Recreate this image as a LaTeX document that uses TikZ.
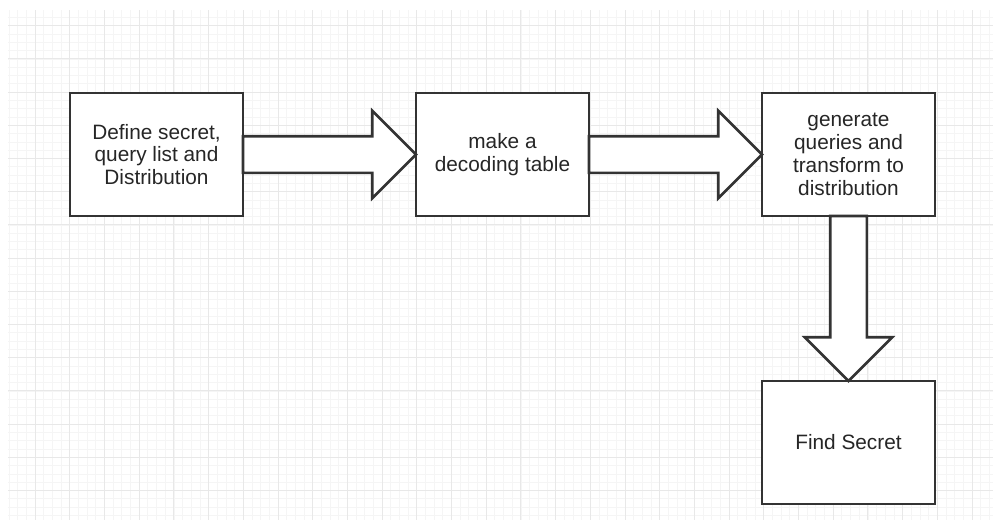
\documentclass[tikz,border=0pt]{standalone}
\usepackage{fontspec}
\setmainfont{Liberation Sans}
\usetikzlibrary{positioning, shapes.arrows, calc}

\tikzset{
  stepbox/.style={draw=black!80, line width=2.6pt, fill=white, outer sep=0pt,
    minimum width=173pt, minimum height=123pt, align=center, text=black!85,
    font=\fontsize{20.8}{22.8}\selectfont},
  fatarrow/.style={single arrow, draw=black!80, line width=2.6pt, fill=white,
    inner xsep=0pt, inner ysep=17pt, outer sep=0pt, minimum width=85pt,
    single arrow head extend=25.5pt, anchor=tail},
  downarrow/.style={fatarrow, shape border rotate=270, inner xsep=17pt, inner ysep=0pt},
  minorline/.style={black!4, line width=0.6pt},
  majorline/.style={black!9, line width=0.8pt}
}

\begin{document}
\begin{tikzpicture}[x=1pt, y=-1pt]
  \useasboundingbox[fill=white] (0,0) rectangle (993,520);

  % background grid
  \begin{scope}
    \clip (8,10) rectangle (993,520);
    \foreach \i in {-3,...,110} \draw[minorline] ({35+\i*8.675},10) -- ({35+\i*8.675},520);
    \foreach \j in {-29,...,31} \draw[minorline] (8,{258+\j*8.3}) -- (993,{258+\j*8.3});
    \foreach \i in {0,...,27} \draw[majorline] ({35+\i*34.7},10) -- ({35+\i*34.7},520);
    \foreach \j in {-7,...,7} \draw[majorline] (8,{258+\j*33.2}) -- (993,{258+\j*33.2});
  \end{scope}

  % steps
  \node[stepbox] (define) at (156.5,154.5) {Define secret,\\query list and\\Distribution};
  \node[stepbox, right=173pt of define] (decode) {make a\\decoding table};
  \node[stepbox, right=173pt of decode] (generate) {generate\\queries and\\transform to\\distribution};
  \node[stepbox, below=165pt of generate] (find) {Find Secret};

  % block arrows between the steps
  \path let \p1 = ($(decode.west)-(define.east)$), \n1 = {veclen(\x1,\y1)} in
    node[fatarrow, minimum height=\n1] (a1) at (define.east) {};
  \path let \p1 = ($(generate.west)-(decode.east)$), \n1 = {veclen(\x1,\y1)} in
    node[fatarrow, minimum height=\n1] (a2) at (decode.east) {};
  \path let \p1 = ($(find.north)-(generate.south)$), \n1 = {veclen(\x1,\y1)} in
    node[downarrow, minimum height=\n1] (a3) at (generate.south) {};
\end{tikzpicture}
\end{document}
